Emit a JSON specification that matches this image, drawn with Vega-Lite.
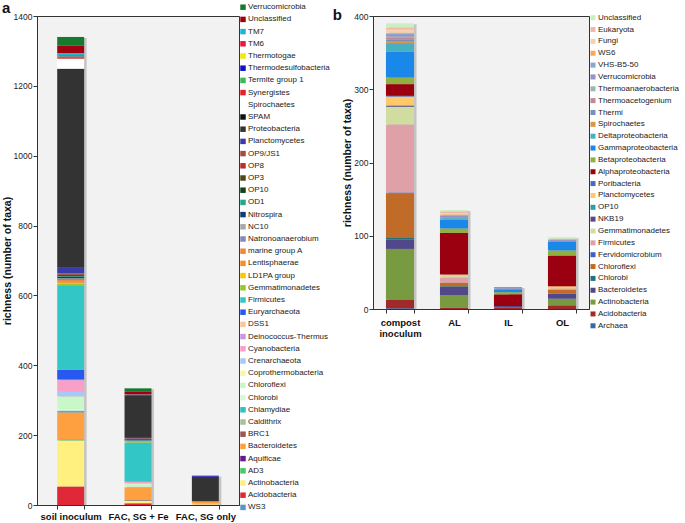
{
"$schema": "https://vega.github.io/schema/vega-lite/v6.json",
"background": "white",
"padding": {"left": 1, "top": 0, "right": 0, "bottom": 0},
"config": {
  "font": "Liberation Sans",
  "view": {"stroke": "#333", "strokeWidth": 1, "fill": "#f2f2f2"},
  "axis": {"labelFont": "Liberation Sans", "titleFont": "Liberation Sans", "labelColor": "#222", "titleColor": "#111", "domainColor": "#333", "tickColor": "#333", "grid": false, "labelFontSize": 8.5, "titleFontSize": 10.5, "titleFontWeight": "bold", "tickSize": 4, "labelPadding": 1},
  "legend": {"labelFont": "Liberation Sans", "labelColor": "#222"}
},
"datasets": {
  "a": [
    {"s":"soil inoculum","p":"Acidobacteria","n":53},
    {"s":"soil inoculum","p":"Actinobacteria","n":132},
    {"s":"soil inoculum","p":"AD3","n":1},
    {"s":"soil inoculum","p":"Aquificae","n":1},
    {"s":"soil inoculum","p":"Bacteroidetes","n":77},
    {"s":"soil inoculum","p":"BRC1","n":1},
    {"s":"soil inoculum","p":"Caldithrix","n":1},
    {"s":"soil inoculum","p":"Chlamydiae","n":4},
    {"s":"soil inoculum","p":"Chlorobi","n":5},
    {"s":"soil inoculum","p":"Chloroflexi","n":35},
    {"s":"soil inoculum","p":"Coprothermobacteria","n":1},
    {"s":"soil inoculum","p":"Crenarchaeota","n":13},
    {"s":"soil inoculum","p":"Cyanobacteria","n":33},
    {"s":"soil inoculum","p":"Deinococcus-Thermus","n":1},
    {"s":"soil inoculum","p":"DSS1","n":1},
    {"s":"soil inoculum","p":"Euryarchaeota","n":28},
    {"s":"soil inoculum","p":"Firmicutes","n":240},
    {"s":"soil inoculum","p":"Gemmatimonadetes","n":6},
    {"s":"soil inoculum","p":"LD1PA group","n":3},
    {"s":"soil inoculum","p":"Lentisphaerae","n":5},
    {"s":"soil inoculum","p":"marine group A","n":3},
    {"s":"soil inoculum","p":"Natronoanaerobium","n":3},
    {"s":"soil inoculum","p":"NC10","n":2},
    {"s":"soil inoculum","p":"Nitrospira","n":4},
    {"s":"soil inoculum","p":"OD1","n":2},
    {"s":"soil inoculum","p":"OP10","n":3},
    {"s":"soil inoculum","p":"OP3","n":2},
    {"s":"soil inoculum","p":"OP8","n":2},
    {"s":"soil inoculum","p":"OP9/JS1","n":2},
    {"s":"soil inoculum","p":"Planctomycetes","n":17},
    {"s":"soil inoculum","p":"Proteobacteria","n":565},
    {"s":"soil inoculum","p":"SPAM","n":3},
    {"s":"soil inoculum","p":"Spirochaetes","n":29},
    {"s":"soil inoculum","p":"Synergistes","n":4},
    {"s":"soil inoculum","p":"Termite group 1","n":2},
    {"s":"soil inoculum","p":"Thermodesulfobacteria","n":1},
    {"s":"soil inoculum","p":"Thermotogae","n":1},
    {"s":"soil inoculum","p":"TM6","n":2},
    {"s":"soil inoculum","p":"TM7","n":6},
    {"s":"soil inoculum","p":"Unclassified","n":21},
    {"s":"soil inoculum","p":"Verrucomicrobia","n":25},
    {"s":"FAC, SG + Fe","p":"Acidobacteria","n":5},
    {"s":"FAC, SG + Fe","p":"Actinobacteria","n":7},
    {"s":"FAC, SG + Fe","p":"AD3","n":1},
    {"s":"FAC, SG + Fe","p":"Aquificae","n":1},
    {"s":"FAC, SG + Fe","p":"Bacteroidetes","n":36},
    {"s":"FAC, SG + Fe","p":"Chlamydiae","n":1},
    {"s":"FAC, SG + Fe","p":"Chlorobi","n":2},
    {"s":"FAC, SG + Fe","p":"Chloroflexi","n":9},
    {"s":"FAC, SG + Fe","p":"Crenarchaeota","n":1},
    {"s":"FAC, SG + Fe","p":"Cyanobacteria","n":5},
    {"s":"FAC, SG + Fe","p":"Euryarchaeota","n":1},
    {"s":"FAC, SG + Fe","p":"Firmicutes","n":110},
    {"s":"FAC, SG + Fe","p":"Gemmatimonadetes","n":1},
    {"s":"FAC, SG + Fe","p":"LD1PA group","n":1},
    {"s":"FAC, SG + Fe","p":"Lentisphaerae","n":2},
    {"s":"FAC, SG + Fe","p":"Natronoanaerobium","n":1},
    {"s":"FAC, SG + Fe","p":"Nitrospira","n":1},
    {"s":"FAC, SG + Fe","p":"OD1","n":1},
    {"s":"FAC, SG + Fe","p":"OP10","n":2},
    {"s":"FAC, SG + Fe","p":"OP3","n":1},
    {"s":"FAC, SG + Fe","p":"OP8","n":1},
    {"s":"FAC, SG + Fe","p":"OP9/JS1","n":1},
    {"s":"FAC, SG + Fe","p":"Planctomycetes","n":4},
    {"s":"FAC, SG + Fe","p":"Proteobacteria","n":117},
    {"s":"FAC, SG + Fe","p":"SPAM","n":2},
    {"s":"FAC, SG + Fe","p":"Synergistes","n":1},
    {"s":"FAC, SG + Fe","p":"TM6","n":1},
    {"s":"FAC, SG + Fe","p":"TM7","n":1},
    {"s":"FAC, SG + Fe","p":"Unclassified","n":7},
    {"s":"FAC, SG + Fe","p":"Verrucomicrobia","n":10},
    {"s":"FAC, SG only","p":"Acidobacteria","n":1},
    {"s":"FAC, SG only","p":"Actinobacteria","n":3},
    {"s":"FAC, SG only","p":"Bacteroidetes","n":5},
    {"s":"FAC, SG only","p":"Firmicutes","n":2},
    {"s":"FAC, SG only","p":"Proteobacteria","n":70},
    {"s":"FAC, SG only","p":"Thermodesulfobacteria","n":2},
    {"s":"FAC, SG only","p":"Unclassified","n":1}
  ],
  "b": [
    {"s":"compost inoculum","p":"Archaea","n":1},
    {"s":"compost inoculum","p":"Acidobacteria","n":12},
    {"s":"compost inoculum","p":"Actinobacteria","n":69},
    {"s":"compost inoculum","p":"Bacteroidetes","n":13},
    {"s":"compost inoculum","p":"Chlorobi","n":2},
    {"s":"compost inoculum","p":"Chloroflexi","n":61},
    {"s":"compost inoculum","p":"Fervidomicrobium","n":1},
    {"s":"compost inoculum","p":"Firmicutes","n":93},
    {"s":"compost inoculum","p":"Gemmatimonadetes","n":24},
    {"s":"compost inoculum","p":"NKB19","n":1},
    {"s":"compost inoculum","p":"OP10","n":1},
    {"s":"compost inoculum","p":"Planctomycetes","n":12},
    {"s":"compost inoculum","p":"Poribacteria","n":1},
    {"s":"compost inoculum","p":"Alphaproteobacteria","n":16},
    {"s":"compost inoculum","p":"Betaproteobacteria","n":9},
    {"s":"compost inoculum","p":"Gammaproteobacteria","n":35},
    {"s":"compost inoculum","p":"Deltaproteobacteria","n":12},
    {"s":"compost inoculum","p":"Spirochaetes","n":2},
    {"s":"compost inoculum","p":"Thermi","n":3},
    {"s":"compost inoculum","p":"Thermoacetogenium","n":2},
    {"s":"compost inoculum","p":"Thermoanaerobacteria","n":2},
    {"s":"compost inoculum","p":"Verrucomicrobia","n":2},
    {"s":"compost inoculum","p":"VHS-B5-50","n":2},
    {"s":"compost inoculum","p":"WS6","n":1},
    {"s":"compost inoculum","p":"Fungi","n":5},
    {"s":"compost inoculum","p":"Eukaryota","n":2},
    {"s":"compost inoculum","p":"Unclassified","n":6},
    {"s":"AL","p":"Acidobacteria","n":2},
    {"s":"AL","p":"Actinobacteria","n":17},
    {"s":"AL","p":"Bacteroidetes","n":11},
    {"s":"AL","p":"Chlorobi","n":1},
    {"s":"AL","p":"Chloroflexi","n":5},
    {"s":"AL","p":"Firmicutes","n":7},
    {"s":"AL","p":"Gemmatimonadetes","n":3},
    {"s":"AL","p":"Planctomycetes","n":1},
    {"s":"AL","p":"Alphaproteobacteria","n":57},
    {"s":"AL","p":"Betaproteobacteria","n":6},
    {"s":"AL","p":"Gammaproteobacteria","n":12},
    {"s":"AL","p":"Deltaproteobacteria","n":2},
    {"s":"AL","p":"Thermi","n":1},
    {"s":"AL","p":"Verrucomicrobia","n":2},
    {"s":"AL","p":"VHS-B5-50","n":1},
    {"s":"AL","p":"WS6","n":1},
    {"s":"AL","p":"Fungi","n":2},
    {"s":"AL","p":"Eukaryota","n":2},
    {"s":"AL","p":"Unclassified","n":2},
    {"s":"IL","p":"Acidobacteria","n":2},
    {"s":"IL","p":"Bacteroidetes","n":2},
    {"s":"IL","p":"Alphaproteobacteria","n":16},
    {"s":"IL","p":"Betaproteobacteria","n":3},
    {"s":"IL","p":"Gammaproteobacteria","n":3},
    {"s":"IL","p":"Thermi","n":2},
    {"s":"IL","p":"Verrucomicrobia","n":2},
    {"s":"OL","p":"Acidobacteria","n":5},
    {"s":"OL","p":"Actinobacteria","n":9},
    {"s":"OL","p":"Bacteroidetes","n":7},
    {"s":"OL","p":"Chloroflexi","n":5},
    {"s":"OL","p":"Firmicutes","n":2},
    {"s":"OL","p":"Planctomycetes","n":3},
    {"s":"OL","p":"Alphaproteobacteria","n":42},
    {"s":"OL","p":"Betaproteobacteria","n":7},
    {"s":"OL","p":"Gammaproteobacteria","n":12},
    {"s":"OL","p":"Thermi","n":1},
    {"s":"OL","p":"Verrucomicrobia","n":2},
    {"s":"OL","p":"Fungi","n":1},
    {"s":"OL","p":"Unclassified","n":2}
  ]
},
"spacing": 1,
"align": "none",
"resolve": {"scale": {"color": "independent"}, "legend": {"color": "independent"}},
"hconcat": [
  {
    "width": 202, "height": 489,
    "title": {"text": "a", "anchor": "start", "frame": "bounds", "fontSize": 15, "fontWeight": "bold", "offset": -13, "color": "#111"},
    "data": {"name": "a"},
    "transform": [
      {"calculate": "indexof(['WS3','Acidobacteria','Actinobacteria','AD3','Aquificae','Bacteroidetes','BRC1','Caldithrix','Chlamydiae','Chlorobi','Chloroflexi','Coprothermobacteria','Crenarchaeota','Cyanobacteria','Deinococcus-Thermus','DSS1','Euryarchaeota','Firmicutes','Gemmatimonadetes','LD1PA group','Lentisphaerae','marine group A','Natronoanaerobium','NC10','Nitrospira','OD1','OP10','OP3','OP8','OP9/JS1','Planctomycetes','Proteobacteria','SPAM','Spirochaetes','Synergistes','Termite group 1','Thermodesulfobacteria','Thermotogae','TM6','TM7','Unclassified','Verrucomicrobia'], datum.p)", "as": "k"}
    ],
    "encoding": {
      "x": {"field": "s", "type": "nominal", "sort": ["soil inoculum", "FAC, SG + Fe", "FAC, SG only"],
        "scale": {"paddingInner": 0.6, "paddingOuter": 0.3},
        "axis": {"title": null, "labelAngle": 0, "labelFontWeight": "bold", "labelFontSize": 9.5, "tickBand": "extent", "labelPadding": 2.5, "labelColor": "#111"}}
    },
    "layer": [
      {
        "mark": {"type": "bar", "color": "#c4c4c4", "xOffset": 2.5, "yOffset": 1},
        "encoding": {
          "y": {"field": "n", "aggregate": "sum", "type": "quantitative", "title": "richness (number of taxa)"}
        }
      },
      {
        "mark": {"type": "bar"},
        "encoding": {
          "y": {"field": "n", "type": "quantitative", "stack": "zero",
            "scale": {"domain": [0, 1400], "nice": false},
            "axis": {"title": "richness (number of taxa)", "values": [0, 200, 400, 600, 800, 1000, 1200, 1400], "format": "d", "titlePadding": 1}},
          "order": {"field": "k", "type": "quantitative", "sort": "ascending"},
          "color": {"field": "p", "type": "nominal",
            "scale": {
              "domain": ["Verrucomicrobia","Unclassified","TM7","TM6","Thermotogae","Thermodesulfobacteria","Termite group 1","Synergistes","Spirochaetes","SPAM","Proteobacteria","Planctomycetes","OP9/JS1","OP8","OP3","OP10","OD1","Nitrospira","NC10","Natronoanaerobium","marine group A","Lentisphaerae","LD1PA group","Gemmatimonadetes","Firmicutes","Euryarchaeota","DSS1","Deinococcus-Thermus","Cyanobacteria","Crenarchaeota","Coprothermobacteria","Chloroflexi","Chlorobi","Chlamydiae","Caldithrix","BRC1","Bacteroidetes","Aquificae","AD3","Actinobacteria","Acidobacteria","WS3"],
              "range": ["#157a2e","#a00010","#1fb4d8","#e8193c","#f2ea00","#1010c8","#3cb95a","#e8202a","#ffffff","#111111","#333333","#3a3aa8","#a84848","#b8302a","#4a4a12","#14401a","#28a888","#143c78","#a8a8a8","#8888b8","#f08838","#f89028","#f8c800","#98c828","#33c6c6","#2858f0","#f8c8a0","#c898e0","#f8a0c8","#a8c8f8","#f8f8a8","#c8f8c8","#d8f8d8","#30c0c8","#a8c0a0","#985858","#ffa040","#681888","#48c868","#fff080","#e02838","#5898c8"]
            },
            "legend": {"title": null, "orient": "none", "legendX": 202, "legendY": -12.8, "direction": "vertical", "columns": 1, "symbolType": "square", "symbolSize": 30, "labelFontSize": 8, "rowPadding": 4.2, "symbolLimit": 60, "padding": 0, "labelOffset": 1, "symbolStrokeWidth": 0, "labelLimit": 200}}
        }
      }
    ]
  },
  {
    "width": 216, "height": 293,
    "title": {"text": "b", "anchor": "start", "frame": "bounds", "fontSize": 15, "fontWeight": "bold", "offset": -11, "dx": -10, "color": "#111"},
    "data": {"name": "b"},
    "transform": [
      {"calculate": "indexof(['Archaea','Acidobacteria','Actinobacteria','Bacteroidetes','Chlorobi','Chloroflexi','Fervidomicrobium','Firmicutes','Gemmatimonadetes','NKB19','OP10','Planctomycetes','Poribacteria','Alphaproteobacteria','Betaproteobacteria','Gammaproteobacteria','Deltaproteobacteria','Spirochaetes','Thermi','Thermoacetogenium','Thermoanaerobacteria','Verrucomicrobia','VHS-B5-50','WS6','Fungi','Eukaryota','Unclassified'], datum.p)", "as": "k"}
    ],
    "encoding": {
      "x": {"field": "s", "type": "nominal", "sort": ["compost inoculum", "AL", "IL", "OL"],
        "scale": {"paddingInner": 0.48, "paddingOuter": 0.24},
        "axis": {"title": null, "labelAngle": 0, "labelFontWeight": "bold", "labelFontSize": 9.5, "tickBand": "extent", "labelPadding": 4, "labelColor": "#111",
          "labelExpr": "datum.value == 'compost inoculum' ? ['compost', 'inoculum'] : datum.value"}}
    },
    "layer": [
      {
        "mark": {"type": "bar", "color": "#c4c4c4", "xOffset": 2.5, "yOffset": 1},
        "encoding": {
          "y": {"field": "n", "aggregate": "sum", "type": "quantitative", "title": "richness (number of taxa)"}
        }
      },
      {
        "mark": {"type": "bar"},
        "encoding": {
          "y": {"field": "n", "type": "quantitative", "stack": "zero",
            "scale": {"domain": [0, 400], "nice": false},
            "axis": {"title": "richness (number of taxa)", "values": [0, 100, 200, 300, 400], "format": "d", "titlePadding": 1}},
          "order": {"field": "k", "type": "quantitative", "sort": "ascending"},
          "color": {"field": "p", "type": "nominal",
            "scale": {
              "domain": ["Unclassified","Eukaryota","Fungi","WS6","VHS-B5-50","Verrucomicrobia","Thermoanaerobacteria","Thermoacetogenium","Thermi","Spirochaetes","Deltaproteobacteria","Gammaproteobacteria","Betaproteobacteria","Alphaproteobacteria","Poribacteria","Planctomycetes","OP10","NKB19","Gemmatimonadetes","Firmicutes","Fervidomicrobium","Chloroflexi","Chlorobi","Bacteroidetes","Actinobacteria","Acidobacteria","Archaea"],
              "range": ["#c8f0c0","#f0b8a8","#f8d0b0","#f8a858","#88a8d0","#9890c8","#98b8b0","#c08898","#7890c0","#d89848","#48b0c0","#1a88e8","#90b040","#9a0010","#4868c8","#ffc868","#28a0a8","#584888","#d0dca0","#e0a0a8","#4060c8","#c06c28","#207080","#504888","#789a40","#a02a2a","#3868a8"]
            },
            "legend": {"title": null, "orient": "none", "legendX": 216, "legendY": -2.3, "direction": "vertical", "columns": 1, "symbolType": "square", "symbolSize": 25, "labelFontSize": 8, "rowPadding": 3.85, "symbolLimit": 60, "padding": 0, "labelOffset": 1, "symbolStrokeWidth": 0, "labelLimit": 200}}
        }
      }
    ]
  }
]
}
